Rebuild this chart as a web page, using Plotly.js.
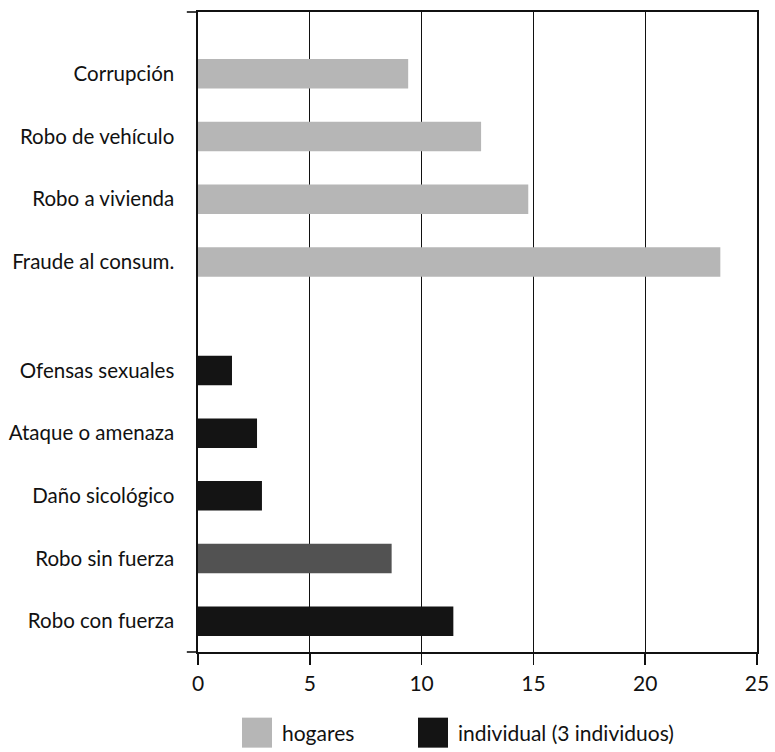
<!DOCTYPE html>
<html>
<head>
<meta charset="utf-8">
<script src="https://cdn.plot.ly/plotly-3.0.1.min.js"></script>
<style>
html,body{margin:0;padding:0;background:#fff;}
#chart{width:775px;height:752px;}
</style>
</head>
<body>
<div id="chart"></div>
<script>
// ---- data ----
const hogaresCats = ["Corrupción", "Robo de vehículo", "Robo a vivienda", "Fraude al consum."];
const hogaresVals = [9.4, 12.66, 14.77, 23.36];
const individualCats = ["Ofensas sexuales", "Ataque o amenaza", "Daño sicológico", "Robo sin fuerza", "Robo con fuerza"];
const individualVals = [1.52, 2.64, 2.86, 8.66, 11.42];
const seriesNames = ["hogares", "individual (3 individuos)"];
const xTicks = [0, 5, 10, 15, 20, 25];

// ---- styling ----
const FONT = "Lato, 'Open Sans', sans-serif";
const hogaresColor = "#b6b6b6";
const individualColors = ["#141414", "#141414", "#141414", "#525252", "#141414"];
const groupGap = 0.73;

const hogaresPos = hogaresCats.map((c, i) => i);
const individualPos = individualCats.map((c, i) => hogaresCats.length + groupGap + i);

const traces = [
  {
    type: "bar", orientation: "h", name: seriesNames[0],
    x: hogaresVals, y: hogaresPos, width: 0.47,
    marker: {color: hogaresColor, line: {width: 0}},
    hoverinfo: "x"
  },
  {
    type: "bar", orientation: "h", name: seriesNames[1],
    x: individualVals, y: individualPos, width: 0.47,
    marker: {color: individualColors, line: {width: 0}},
    hoverinfo: "x"
  }
];

const layout = {
  width: 775, height: 752,
  margin: {l: 198, r: 18, t: 12, b: 100, autoexpand: false},
  paper_bgcolor: "#ffffff", plot_bgcolor: "#ffffff",
  font: {family: FONT, color: "#111"},
  barmode: "overlay",
  showlegend: true,
  legend: {
    orientation: "h",
    xref: "container", x: 242 / 775, xanchor: "left",
    yref: "container", y: 1 - 733 / 752, yanchor: "middle",
    font: {family: FONT, size: 21, color: "#111"},
    entrywidth: 131, entrywidthmode: "pixels",
    traceorder: "normal", bgcolor: "rgba(0,0,0,0)"
  },
  xaxis: {
    range: [0, 25], tickvals: xTicks, ticktext: xTicks.map(String),
    showgrid: true, gridcolor: "#111", gridwidth: 1.3,
    showline: true, linecolor: "#111", linewidth: 1.6, mirror: true,
    ticks: "outside", ticklen: 11, tickwidth: 1.5, tickcolor: "#111",
    tickfont: {family: FONT, size: 21, color: "#111"},
    ticklabelstandoff: 1,
    zeroline: false, fixedrange: true
  },
  yaxis: {
    range: [9.22, -0.986],
    tickvals: hogaresPos.concat(individualPos),
    ticktext: hogaresCats.concat(individualCats),
    showgrid: false, zeroline: false,
    showline: true, linecolor: "#111", linewidth: 1.6, mirror: true,
    ticks: "", tickfont: {family: FONT, size: 20.5, color: "#111"},
    ticklabelstandoff: 18, fixedrange: true
  },
  shapes: [
    {type: "line", xref: "paper", yref: "paper", x0: -0.02, x1: 0, y0: 1, y1: 1, line: {color: "#111", width: 1.6}},
    {type: "line", xref: "paper", yref: "paper", x0: -0.02, x1: 0, y0: 0, y1: 0, line: {color: "#111", width: 1.6}}
  ]
};

Plotly.newPlot("chart", traces, layout, {displayModeBar: false, staticPlot: true}).then(function(gd){
  // enlarge legend swatches to match the reference's big squares
  gd.querySelectorAll(".legend .legendpoints path").forEach(function(p){
    p.setAttribute("d", "M10,15H-20V-15H10Z");
  });
  // let the last legend label overflow its fixed entry width
  gd.querySelectorAll(".legend [clip-path]").forEach(function(el){
    el.removeAttribute("clip-path");
  });
  var leg = gd.querySelector(".legend");
  if (leg) leg.removeAttribute("clip-path");
});
</script>
</body>
</html>
